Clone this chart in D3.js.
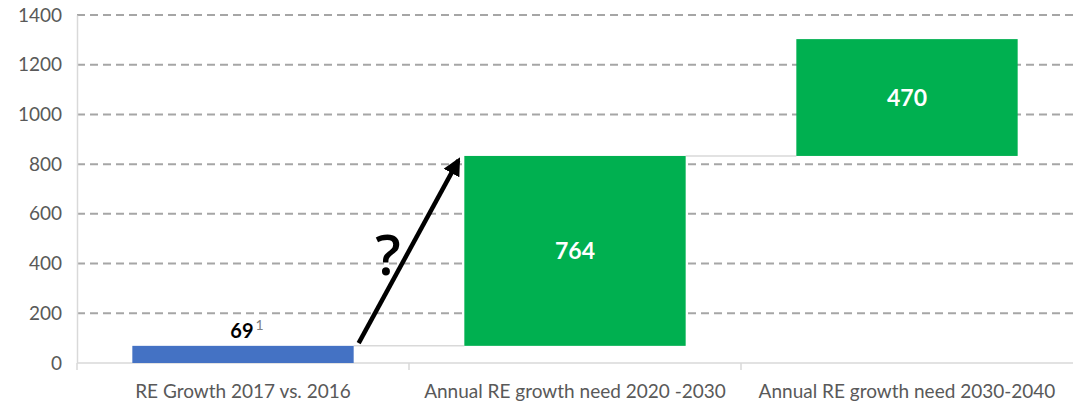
<!doctype html>
<html lang="en">
  <head>
    <meta charset="UTF-8" />
    <title>RE growth</title>
    <script src="https://d3js.org/d3.v7.min.js"></script>
    <style>
      html, body { margin: 0; padding: 0; background: #fff; overflow: hidden; }
      svg { display: block; font-family: Lato, "Open Sans", sans-serif; }
      .tick-label { font-size: 19px; fill: #595959; }
      .cat-label { font-size: 19px; fill: #595959; }
    </style>
  </head>
  <body>
    <svg id="chart" width="1078" height="404"></svg>
    <script>
      // chart data
      const categories = ["RE Growth 2017 vs. 2016", "Annual RE growth need 2020 -2030", "Annual RE growth need 2030-2040"];
      const values = [69, 764, 470];
      const barColors = ["#4472c4", "#00b050", "#00b050"];
      const yTicks = [0, 200, 400, 600, 800, 1000, 1200, 1400];

      // waterfall: each bar starts where the previous ended
      const starts = [];
      values.reduce((acc, v, i) => { starts[i] = acc; return acc + v; }, 0);

      const svg = d3.select("#chart");
      const plotLeft = 77, plotRight = 1073, plotTop = 15, plotBottom = 363;

      const x = d3.scaleBand().domain(categories).range([plotLeft, plotRight]).paddingInner(1 / 3).paddingOuter(1 / 6);
      const y = d3.scaleLinear().domain([0, 1400]).range([plotBottom, plotTop]);

      // gridlines
      svg.append("g")
        .selectAll("line")
        .data(yTicks.filter((t) => t > 0))
        .enter()
        .append("line")
        .attr("x1", plotLeft)
        .attr("x2", plotRight)
        .attr("y1", (d) => y(d))
        .attr("y2", (d) => y(d))
        .attr("stroke", "#a6a6a6")
        .attr("stroke-width", 2)
        .attr("stroke-dasharray", "8,5");

      // y axis
      const yAxis = svg.append("g")
        .attr("transform", `translate(${plotLeft},0)`)
        .call(d3.axisLeft(y).tickValues(yTicks).tickFormat(d3.format("d")).tickSize(0).tickPadding(15));
      yAxis.select(".domain").attr("stroke", "#d9d9d9").attr("stroke-width", 1.5);
      yAxis.selectAll("text").attr("class", "tick-label");
      yAxis.attr("font-family", null).attr("font-size", null);

      // x axis line and ticks between categories
      svg.append("line")
        .attr("x1", plotLeft).attr("x2", plotRight)
        .attr("y1", y(0)).attr("y2", y(0))
        .attr("stroke", "#d9d9d9").attr("stroke-width", 1.5);
      const step = x.step();
      const bounds = d3.range(categories.length).map((i) => plotLeft + i * step);
      svg.append("g")
        .selectAll("line")
        .data(bounds)
        .enter()
        .append("line")
        .attr("x1", (d) => d).attr("x2", (d) => d)
        .attr("y1", y(0)).attr("y2", y(0) + 7)
        .attr("stroke", "#d9d9d9").attr("stroke-width", 1.5);

      // category labels
      svg.append("g")
        .selectAll("text")
        .data(categories)
        .enter()
        .append("text")
        .attr("class", "cat-label")
        .attr("x", (d) => x(d) + x.bandwidth() / 2)
        .attr("y", 398)
        .attr("text-anchor", "middle")
        .text((d) => d);

      // connector lines
      svg.append("g")
        .selectAll("line")
        .data(d3.range(categories.length - 1))
        .enter()
        .append("line")
        .attr("x1", (i) => x(categories[i]) + x.bandwidth())
        .attr("x2", (i) => x(categories[i + 1]))
        .attr("y1", (i) => y(starts[i] + values[i]))
        .attr("y2", (i) => y(starts[i] + values[i]))
        .attr("stroke", "#d9d9d9")
        .attr("stroke-width", 1.5);

      // bars
      svg.append("g")
        .selectAll("rect")
        .data(values)
        .enter()
        .append("rect")
        .attr("x", (d, i) => x(categories[i]))
        .attr("width", x.bandwidth())
        .attr("y", (d, i) => y(starts[i] + d))
        .attr("height", (d, i) => y(starts[i]) - y(starts[i] + d))
        .attr("fill", (d, i) => barColors[i]);

      // value labels
      const lab0 = svg.append("text")
        .attr("x", x(categories[0]) + x.bandwidth() / 2 + 4)
        .attr("y", y(values[0]) - 8)
        .attr("text-anchor", "middle")
        .attr("font-size", 20)
        .attr("font-weight", "bold")
        .attr("fill", "#000");
      lab0.append("tspan").text(values[0]);
      lab0.append("tspan").attr("font-size", 14).attr("font-weight", "normal").attr("fill", "#808080").attr("dy", -8).attr("dx", 2).text("1");

      svg.append("g")
        .selectAll("text")
        .data(values.slice(1))
        .enter()
        .append("text")
        .attr("x", (d, i) => x(categories[i + 1]) + x.bandwidth() / 2)
        .attr("y", (d, i) => y(starts[i + 1] + d / 2) + 8)
        .attr("text-anchor", "middle")
        .attr("font-size", 23)
        .attr("font-weight", "bold")
        .attr("fill", "#fff")
        .text((d) => d);

      // arrow with question mark
      svg.append("defs").append("marker")
        .attr("id", "head")
        .attr("viewBox", "0 0 10 10")
        .attr("refX", 8).attr("refY", 5)
        .attr("markerWidth", 4).attr("markerHeight", 4)
        .attr("orient", "auto")
        .append("path").attr("d", "M0,0 L10,5 L0,10 Z").attr("fill", "#000");

      const ax1 = x(categories[0]) + x.bandwidth() + 5;
      const ax2 = x(categories[1]) - 6;
      svg.append("line")
        .attr("x1", ax1).attr("y1", y(80))
        .attr("x2", ax2).attr("y2", y(815))
        .attr("stroke", "#000")
        .attr("stroke-width", 4.5)
        .attr("marker-end", "url(#head)");

      svg.append("text")
        .attr("x", 388)
        .attr("y", y(350) - 1)
        .attr("text-anchor", "middle")
        .attr("font-size", 56)
        .attr("font-weight", 600)
        .attr("font-family", "'Open Sans', sans-serif")
        .attr("fill", "#000")
        .text("?");
    </script>
  </body>
</html>
